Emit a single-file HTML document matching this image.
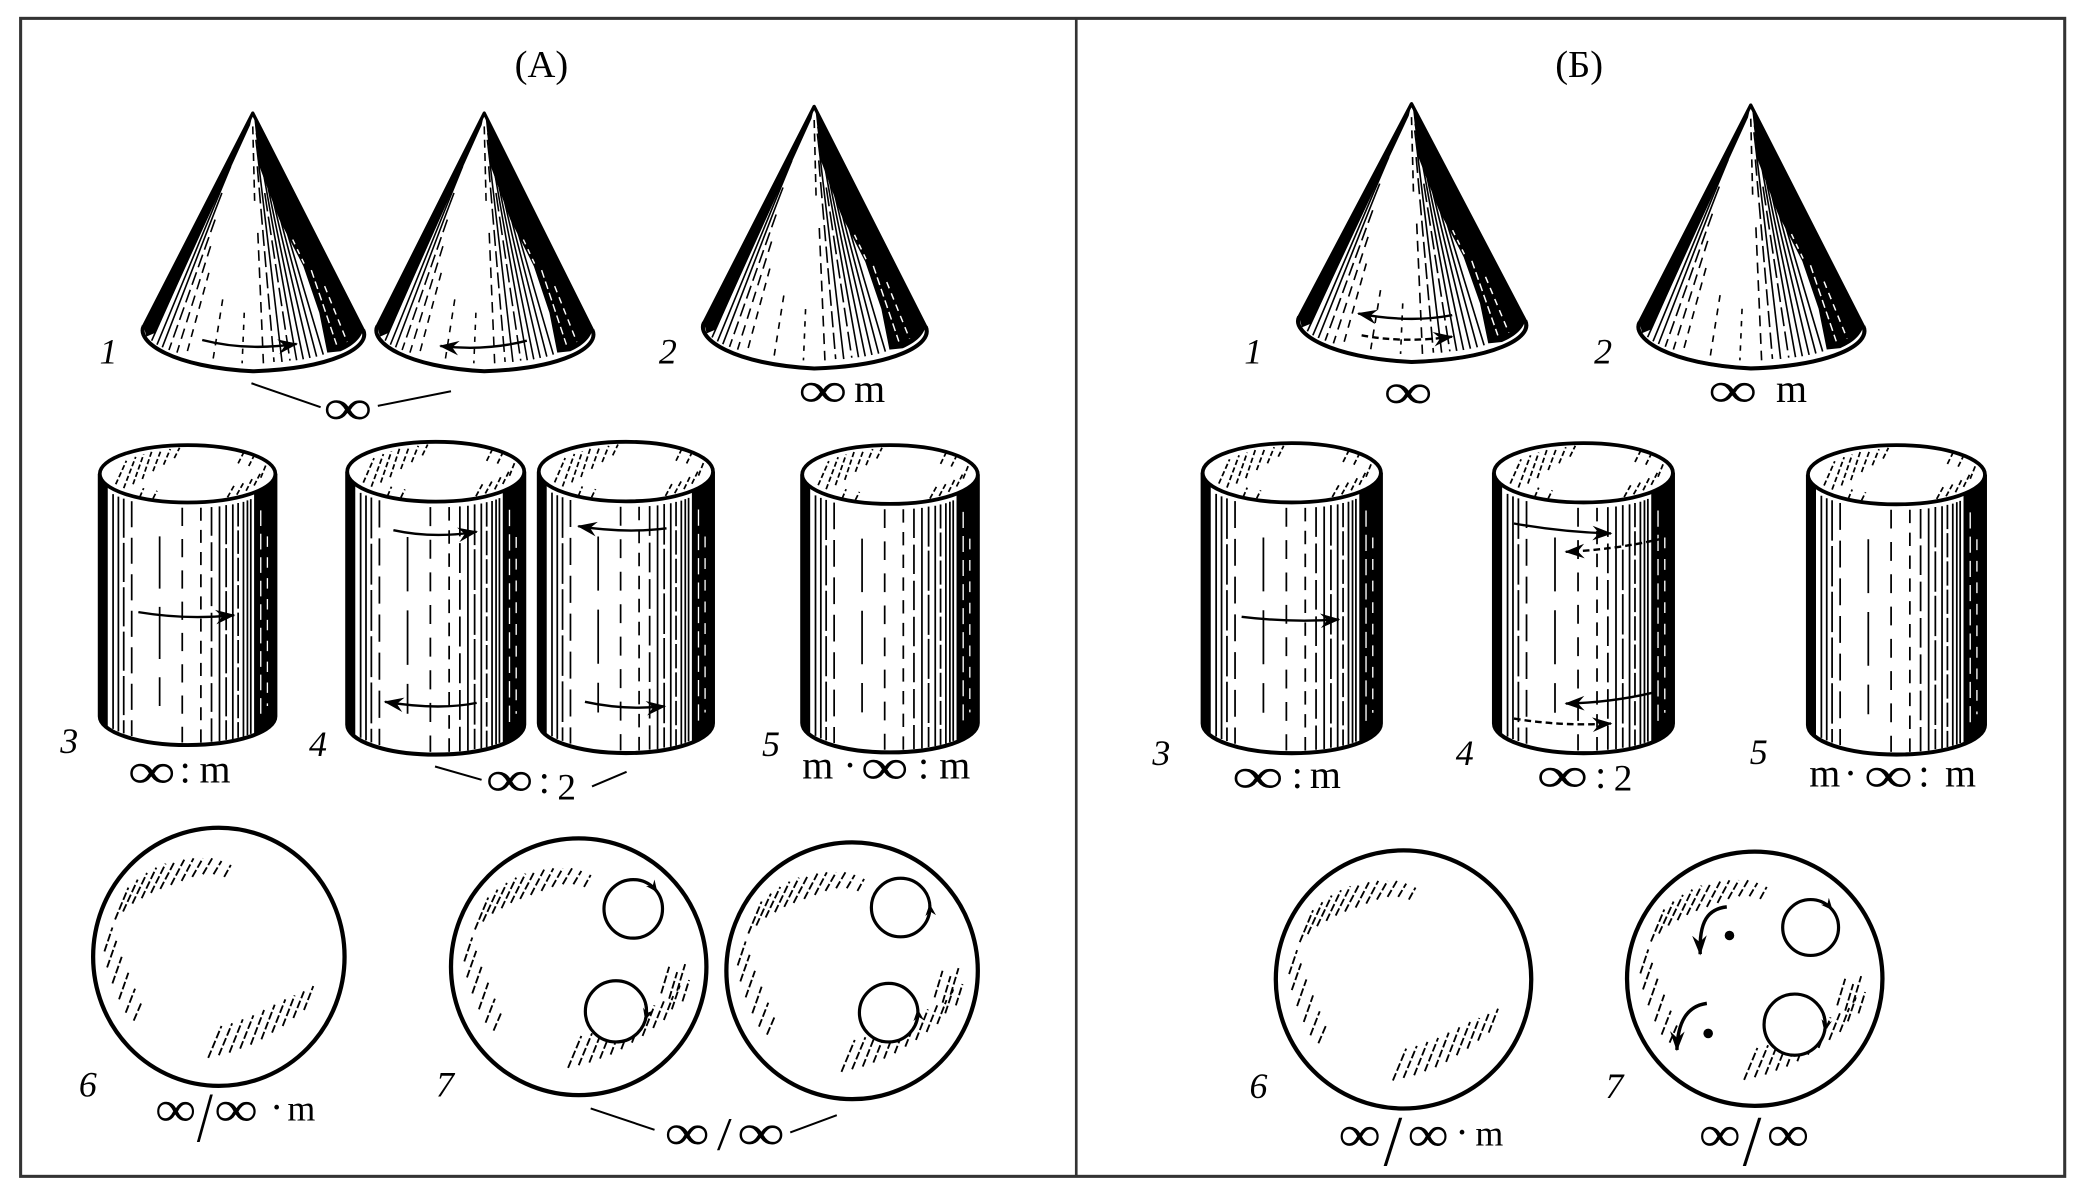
<!DOCTYPE html>
<html><head><meta charset="utf-8">
<style>html,body{margin:0;padding:0;background:#fff;width:2086px;height:1187px;overflow:hidden}svg{display:block}text{font-family:"Liberation Serif","DejaVu Serif",serif;fill:#000}</style>
</head><body>
<svg width="2086" height="1187" viewBox="0 0 1568 892" preserveAspectRatio="none" xmlns="http://www.w3.org/2000/svg">
<defs>
<marker id="ah" markerUnits="userSpaceOnUse" markerWidth="16" markerHeight="12" refX="14" refY="6" orient="auto" viewBox="0 0 16 12"><path d="M0,0.5 L15,6 L0,11.5 L5,6 Z" fill="#000"/></marker>
<marker id="ahs" markerUnits="userSpaceOnUse" markerWidth="10" markerHeight="8" refX="8" refY="4" orient="auto" viewBox="0 0 10 8"><path d="M0,0 L9,4 L0,8 L3,4 Z" fill="#000"/></marker>

<g id="cone">
<path d="M0,0 L-82,160 C-88,172 -60,191 0,194 C60,192 89,176 83,163 Z" fill="#fff" stroke="#000" stroke-width="2.5" stroke-linejoin="round"/>
<g stroke="#000" stroke-width="1.2" fill="none">
<line x1="-8.9" y1="20" x2="-76" y2="171"/>
<line x1="-16.6" y1="40" x2="-72" y2="174"/>
<line x1="-23.2" y1="60" x2="-68" y2="176"/>
<line x1="-28.3" y1="80" x2="-63" y2="178" stroke-dasharray="10 4"/>
<line x1="-31.7" y1="100" x2="-57" y2="180" stroke-dasharray="8 5"/>
<line x1="-33" y1="120" x2="-50" y2="182" stroke-dasharray="6 5"/>
<line x1="-22.6" y1="140" x2="-30" y2="186" stroke-dasharray="5 5"/>
<line x1="-6.4" y1="150" x2="-8" y2="188" stroke-dasharray="4 5"/>
<line x1="0" y1="10" x2="1.5" y2="70" stroke-dasharray="6 4"/>
<line x1="3.8" y1="90" x2="8" y2="188" stroke-dasharray="8 5"/>
<line x1="3.4" y1="40" x2="16" y2="187" stroke-dasharray="12 4"/>
<line x1="2.35" y1="20" x2="22" y2="187"/>
<line x1="9" y1="60" x2="28" y2="186" stroke-dasharray="14 4"/>
<line x1="2.7" y1="15" x2="33" y2="185.7"/>
<line x1="6.2" y1="30" x2="38" y2="185"/>
<line x1="4.7" y1="20" x2="43" y2="184"/>
<line x1="13" y1="50" x2="48" y2="183"/>
<line x1="20" y1="70" x2="53" y2="181.5"/>
</g>
<path d="M-82,160 L-80,168 L-73,165 L-2,9 L0,0 Z" fill="#000"/>
<path d="M0,0 L83,163 C81,170 75,175 66,179 L56,180 L50,150 L38,115 L20,80 L5,40 L1,3 Z" fill="#000"/>
<g stroke="#fff" stroke-width="1.1" fill="none">
<line x1="44" y1="118" x2="63" y2="174" stroke-dasharray="6 3"/>
<line x1="54" y1="130" x2="71" y2="172" stroke-dasharray="5 4"/>
<line x1="30" y1="95" x2="40" y2="116" stroke-dasharray="4 4"/>
</g>
<path d="M-82,160 C-88,172 -60,191 0,194 C60,192 89,176 83,163" fill="none" stroke="#000" stroke-width="3"/>
</g>

<g id="cyl">
<rect x="0" y="22" width="132" height="186" fill="#fff"/>
<ellipse cx="66" cy="208" rx="66" ry="22" fill="#fff"/>
<g stroke="#000" stroke-width="1.3" fill="none">
<line x1="10" y1="37.6" x2="10" y2="217.6"/>
<line x1="14" y1="39.5" x2="14" y2="219.5"/>
<line x1="18" y1="41" x2="18" y2="221" stroke-dasharray="30 4"/>
<line x1="24" y1="43" x2="24" y2="223" stroke-dasharray="20 8"/>
<line x1="45" y1="70" x2="45" y2="200" stroke-dasharray="40 14"/>
<line x1="62" y1="48" x2="62" y2="228" stroke-dasharray="14 10"/>
<line x1="76" y1="48" x2="76" y2="228" stroke-dasharray="10 7"/>
<line x1="84" y1="47.5" x2="84" y2="227.5" stroke-dasharray="22 5"/>
<line x1="90" y1="47" x2="90" y2="227"/>
<line x1="95" y1="46" x2="95" y2="226" stroke-dasharray="30 3"/>
<line x1="100" y1="45.4" x2="100" y2="225.4"/>
<line x1="104" y1="44.4" x2="104" y2="224.4" stroke-dasharray="18 3"/>
<line x1="108" y1="43.5" x2="108" y2="223.5"/>
<line x1="111" y1="42.4" x2="111" y2="222.4"/>
<line x1="113.5" y1="41.4" x2="113.5" y2="221.4"/>
</g>
<path d="M116,36.3 L116,222.3 A66,22 0 0 0 132,208 L132,22 A66,22 0 0 1 116,36.3 Z" fill="#000"/>
<path d="M0,22 L0,208 A66,22 0 0 0 6,217.2 L6,31.2 A66,22 0 0 1 0,22 Z" fill="#000"/>
<g stroke="#fff" stroke-width="1" fill="none">
<line x1="121" y1="50" x2="121" y2="210" stroke-dasharray="12 6"/>
<line x1="126" y1="70" x2="126" y2="200" stroke-dasharray="8 8"/>
</g>
<path d="M0,22 L0,208 A66,22 0 0 0 132,208 L132,22" fill="none" stroke="#000" stroke-width="3"/>
<ellipse cx="66" cy="22" rx="66" ry="22" fill="#fff" stroke="#000" stroke-width="2.8"/>
<g stroke="#000" stroke-width="1.3" fill="none" stroke-dasharray="4 2">
<line x1="12" y1="30" x2="20" y2="12"/>
<line x1="18" y1="33" x2="27" y2="9"/>
<line x1="25" y1="30" x2="33" y2="7"/>
<line x1="32" y1="26" x2="39" y2="5"/>
<line x1="40" y1="20" x2="46" y2="4"/>
<line x1="48" y1="15" x2="53" y2="3"/>
<line x1="56" y1="10" x2="60" y2="2"/>
<line x1="30" y1="40" x2="33" y2="33"/>
<line x1="40" y1="41" x2="43" y2="35"/>
<line x1="96" y1="40" x2="101" y2="31"/>
<line x1="103" y1="38" x2="108" y2="29"/>
<line x1="110" y1="35" x2="115" y2="25"/>
<line x1="116" y1="31" x2="121" y2="21"/>
<line x1="121" y1="25" x2="125" y2="15"/>
<line x1="104" y1="14" x2="108" y2="6"/>
<line x1="112" y1="16" x2="116" y2="8"/>
</g>
</g>

<g id="sh" stroke="#000" stroke-width="1.4" fill="none" stroke-dasharray="6 2">
<line x1="-78" y1="-28" x2="-68" y2="-52"/>
<line x1="-72" y1="-34" x2="-61" y2="-58"/>
<line x1="-65" y1="-40" x2="-54" y2="-63"/>
<line x1="-58" y1="-44" x2="-47" y2="-67"/>
<line x1="-51" y1="-48" x2="-40" y2="-70"/>
<line x1="-44" y1="-51" x2="-33" y2="-72"/>
<line x1="-36" y1="-54" x2="-26" y2="-73"/>
<line x1="-28" y1="-57" x2="-19" y2="-74"/>
<line x1="-20" y1="-60" x2="-12" y2="-74"/>
<line x1="-12" y1="-62" x2="-5" y2="-74"/>
<line x1="-4" y1="-62" x2="2" y2="-72"/>
<line x1="4" y1="-60" x2="9" y2="-69"/>
<line x1="-86" y1="-4" x2="-80" y2="-22"/>
<line x1="-84" y1="8" x2="-77" y2="-12"/>
<line x1="-80" y1="20" x2="-73" y2="0"/>
<line x1="-75" y1="32" x2="-68" y2="12"/>
<line x1="-70" y1="42" x2="-63" y2="24"/>
<line x1="-64" y1="48" x2="-58" y2="34"/>
<line x1="-8" y1="76" x2="2" y2="52"/>
<line x1="0" y1="74" x2="10" y2="50"/>
<line x1="8" y1="72" x2="18" y2="47"/>
<line x1="16" y1="69" x2="26" y2="44"/>
<line x1="24" y1="66" x2="34" y2="40"/>
<line x1="32" y1="62" x2="42" y2="36"/>
<line x1="40" y1="57" x2="50" y2="32"/>
<line x1="48" y1="52" x2="57" y2="29"/>
<line x1="56" y1="46" x2="64" y2="26"/>
<line x1="64" y1="40" x2="71" y2="22"/>
</g>
<g id="shr" stroke="#000" stroke-width="1.4" fill="none" stroke-dasharray="6 2">
<line x1="62" y1="20" x2="68" y2="0"/>
<line x1="68" y1="24" x2="74" y2="4"/>
<line x1="74" y1="18" x2="80" y2="-2"/>
<line x1="70" y1="32" x2="76" y2="14"/>
<line x1="78" y1="26" x2="83" y2="10"/>
</g>
</defs>

<rect x="0" y="0" width="1568" height="892" fill="#fff"/>
<rect x="15.5" y="13.8" width="1536.5" height="870.2" fill="none" stroke="#333" stroke-width="2.3"/>
<line x1="809" y1="13.8" x2="809" y2="884" stroke="#333" stroke-width="2"/>

<text x="407" y="58" font-size="29" text-anchor="middle">(А)</text>
<text x="1187" y="58" font-size="29" text-anchor="middle">(Б)</text>

<use href="#cone" transform="translate(190,85)"/>
<use href="#cone" transform="translate(364,85) scale(0.98,1)"/>
<use href="#cone" transform="translate(612,80) scale(1.01,1.015)"/>
<use href="#cone" transform="translate(1061,78) scale(1.03,1)"/>
<use href="#cone" transform="translate(1316,79) scale(1.02,1.02)"/>

<g fill="none" stroke="#000" stroke-width="1.8">
<path d="M152,255.5 Q185,264 223,258.5" marker-end="url(#ah)"/>
<path d="M396,256 Q365,264 331,260" marker-end="url(#ah)"/>
<path d="M1091.6,236.8 Q1060,243 1021,235.6" marker-end="url(#ah)"/>
<path d="M1023.5,252 Q1055,258 1091.5,253" stroke-dasharray="5 3" marker-end="url(#ah)"/>
</g>

<use href="#cyl" transform="translate(75,334.5) scale(1,0.98)"/>
<use href="#cyl" transform="translate(261,332) scale(1.008,1.022)"/>
<use href="#cyl" transform="translate(405,332) scale(0.992,1.017)"/>
<use href="#cyl" transform="translate(603,334.5) scale(1,1.004)"/>
<use href="#cyl" transform="translate(904,333) scale(1.015,1.013)"/>
<use href="#cyl" transform="translate(1123,333) scale(1.019,1.013)"/>
<use href="#cyl" transform="translate(1359,334.5) scale(1.008,1.011)"/>

<g fill="none" stroke="#000" stroke-width="1.8">
<path d="M104,460 Q140,466 176,462.3" marker-end="url(#ah)"/>
<path d="M295.7,398.4 Q326,405 358.3,399.6" marker-end="url(#ah)"/>
<path d="M358.3,528.2 Q330,534 289.4,527.4" marker-end="url(#ah)"/>
<path d="M501,397 Q470,401 434.7,395.4" marker-end="url(#ah)"/>
<path d="M439.7,527.4 Q470,534 499.8,530.7" marker-end="url(#ah)"/>
<path d="M933.3,463.5 Q970,468 1006.5,465.5" marker-end="url(#ah)"/>
<path d="M1138,393.4 Q1175,400 1211,400.9" marker-end="url(#ah)"/>
<path d="M1250,404.6 Q1215,413 1177,414.7" stroke-dasharray="5 3" marker-end="url(#ah)"/>
<path d="M1245,519.9 Q1212,528 1177,528.7" marker-end="url(#ah)"/>
<path d="M1138,540 Q1175,546 1211,543.7" stroke-dasharray="5 3" marker-end="url(#ah)"/>
</g>

<g transform="translate(164.5,719)"><ellipse rx="94.5" ry="97" fill="#fff" stroke="#000" stroke-width="3.2"/><use href="#sh"/></g>
<g transform="translate(435,726.5)"><ellipse rx="96" ry="96.5" fill="#fff" stroke="#000" stroke-width="3.2"/><use href="#sh"/><use href="#shr"/></g>
<g transform="translate(640.5,729.5)"><ellipse rx="94.5" ry="96.5" fill="#fff" stroke="#000" stroke-width="3.2"/><use href="#sh"/><use href="#shr"/></g>
<g transform="translate(1055,736)"><ellipse rx="96" ry="97" fill="#fff" stroke="#000" stroke-width="3.2"/><use href="#sh"/></g>
<g transform="translate(1319,735.5)"><ellipse rx="96" ry="95.5" fill="#fff" stroke="#000" stroke-width="3.2"/><use href="#sh"/><use href="#shr"/></g>

<g fill="#fff" stroke="#000" stroke-width="2.4">
<circle cx="476" cy="683" r="22"/>
<circle cx="463" cy="760" r="23"/>
<circle cx="677" cy="682" r="22"/>
<circle cx="668" cy="761" r="22"/>
<circle cx="1361" cy="697" r="21"/>
<circle cx="1349" cy="770" r="23"/>
</g>
<g fill="none" stroke="#000" stroke-width="2.2">
<path d="M484.6,662.75 A22,22 0 0 1 493.57,669.76" marker-end="url(#ahs)"/>
<path d="M485.2,754.05 A23,23 0 0 1 485.2,765.95" marker-end="url(#ahs)"/>
<path d="M696.9,691.3 A22,22 0 0 0 698.9,680.1" marker-end="url(#ahs)"/>
<path d="M687.9,770.3 A22,22 0 0 0 689.9,759.1" marker-end="url(#ahs)"/>
<path d="M1368.2,677.3 A21,21 0 0 1 1376.9,683.3" marker-end="url(#ahs)"/>
<path d="M1370.75,762.5 A23,23 0 0 1 1371.6,774.4" marker-end="url(#ahs)"/>
<path d="M1298,681.5 C1284,683 1277,692 1278,717" stroke-width="2.6" marker-end="url(#ah)"/>
<path d="M1283,754 C1268,756 1261,768 1260.5,789" stroke-width="2.6" marker-end="url(#ah)"/>
</g>
<circle cx="1300" cy="703" r="3.6" fill="#000"/>
<circle cx="1284" cy="776.6" r="3.6" fill="#000"/>

<g stroke="#000" stroke-width="1.5">
<line x1="189" y1="288" x2="241" y2="306"/>
<line x1="284" y1="305" x2="339" y2="294"/>
<line x1="327" y1="576" x2="362" y2="586"/>
<line x1="445" y1="591" x2="471" y2="580"/>
<line x1="444" y1="833" x2="492" y2="849"/>
<line x1="594" y1="851" x2="629" y2="838"/>
</g>

<g font-size="27" font-style="italic" text-anchor="middle">
<text x="81.5" y="273">1</text>
<text x="502" y="273">2</text>
<text x="52" y="566">3</text>
<text x="239" y="568">4</text>
<text x="579.5" y="568">5</text>
<text x="66" y="824">6</text>
<text x="334.5" y="824">7</text>
<text x="942" y="273">1</text>
<text x="1205" y="273">2</text>
<text x="873" y="575">3</text>
<text x="1101" y="575">4</text>
<text x="1322" y="574">5</text>
<text x="946" y="825">6</text>
<text x="1213.5" y="825">7</text>
</g>

<g font-size="38">
<text x="243" y="319" textLength="37" lengthAdjust="spacingAndGlyphs">∞</text>
<text x="600" y="306" textLength="37" lengthAdjust="spacingAndGlyphs">∞</text>
<text x="96" y="592" textLength="36" lengthAdjust="spacingAndGlyphs">∞</text>
<text x="365" y="598" textLength="36" lengthAdjust="spacingAndGlyphs">∞</text>
<text x="647" y="589" textLength="36" lengthAdjust="spacingAndGlyphs">∞</text>
<text x="116.5" y="846" textLength="31" lengthAdjust="spacingAndGlyphs">∞</text>
<text x="161" y="846" textLength="33" lengthAdjust="spacingAndGlyphs">∞</text>
<text x="499.5" y="864" textLength="34" lengthAdjust="spacingAndGlyphs">∞</text>
<text x="554" y="864" textLength="36" lengthAdjust="spacingAndGlyphs">∞</text>
<text x="1040" y="307" textLength="37" lengthAdjust="spacingAndGlyphs">∞</text>
<text x="1284" y="306" textLength="37" lengthAdjust="spacingAndGlyphs">∞</text>
<text x="926" y="596" textLength="39" lengthAdjust="spacingAndGlyphs">∞</text>
<text x="1155" y="595" textLength="39" lengthAdjust="spacingAndGlyphs">∞</text>
<text x="1401" y="595" textLength="37" lengthAdjust="spacingAndGlyphs">∞</text>
<text x="1006" y="865" textLength="32" lengthAdjust="spacingAndGlyphs">∞</text>
<text x="1058" y="865" textLength="31" lengthAdjust="spacingAndGlyphs">∞</text>
<text x="1277" y="865" textLength="31.5" lengthAdjust="spacingAndGlyphs">∞</text>
<text x="1328" y="865" textLength="32" lengthAdjust="spacingAndGlyphs">∞</text>
</g>

<g font-size="30">
<text x="642" y="302">m</text>
<text x="135" y="588">:</text>
<text x="150" y="588">m</text>
<text x="405" y="596">:</text>
<text x="419" y="601" font-size="28">2</text>
<text x="603" y="585">m</text>
<text x="634" y="585">·</text>
<text x="690" y="585">:</text>
<text x="706" y="585">m</text>
<text x="203" y="842">·</text>
<text x="216" y="842" font-size="27">m</text>
<text x="1335" y="302">m</text>
<text x="971" y="592">:</text>
<text x="984.6" y="592">m</text>
<text x="1199" y="592">:</text>
<text x="1213" y="594" font-size="28">2</text>
<text x="1360" y="591">m</text>
<text x="1386" y="591">·</text>
<text x="1442" y="591">:</text>
<text x="1462" y="591">m</text>
<text x="1094" y="861">·</text>
<text x="1109" y="861" font-size="27">m</text>
</g>

<text x="148" y="858" font-size="53" textLength="12" lengthAdjust="spacingAndGlyphs">/</text>
<text x="539" y="864" font-size="35" textLength="11" lengthAdjust="spacingAndGlyphs">/</text>
<text x="1040" y="876" font-size="54" textLength="14" lengthAdjust="spacingAndGlyphs">/</text>
<text x="1310" y="876" font-size="54" textLength="14" lengthAdjust="spacingAndGlyphs">/</text>
</svg>
</body></html>
